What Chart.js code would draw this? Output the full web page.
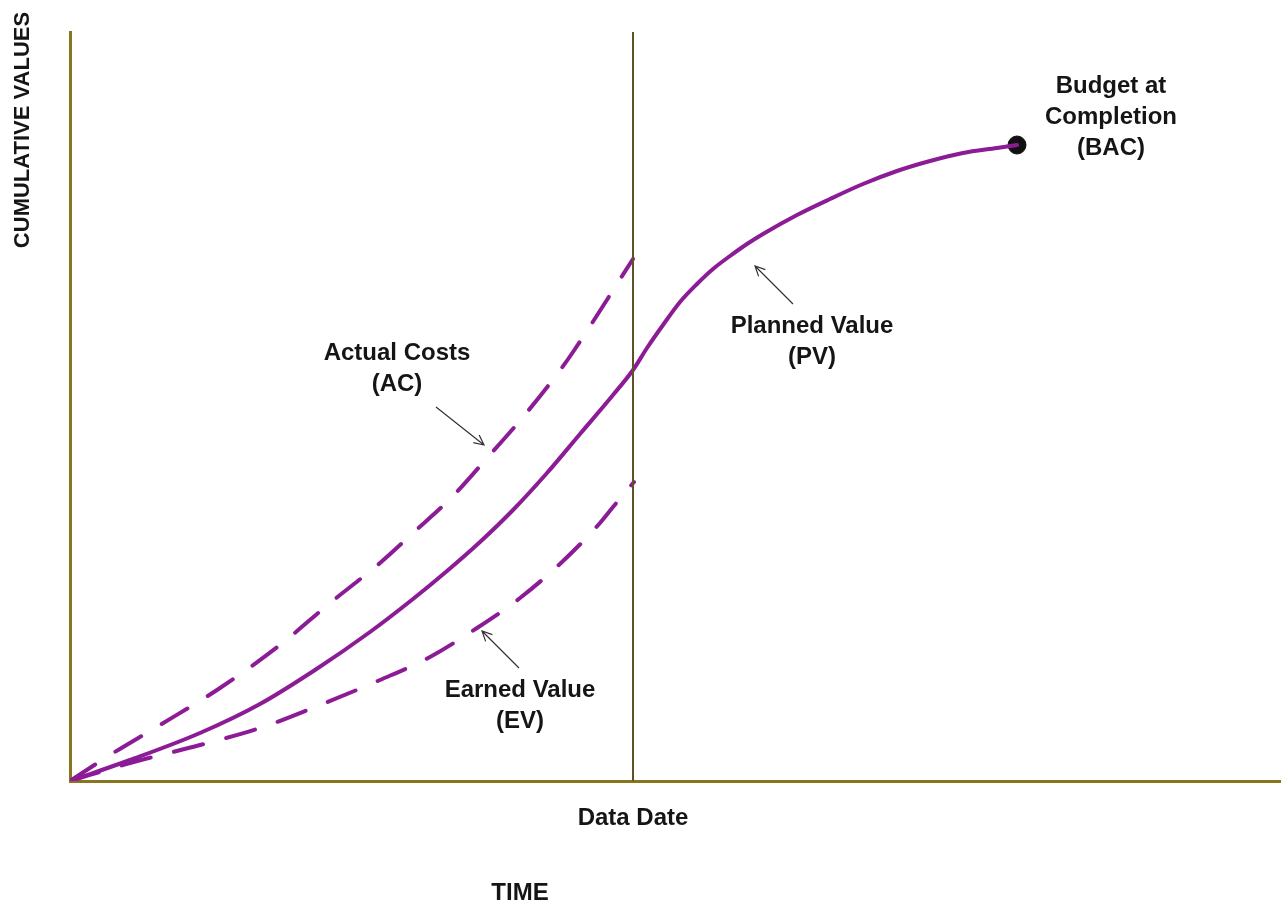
<!DOCTYPE html>
<html>
<head>
<meta charset="utf-8">
<script src="https://cdn.jsdelivr.net/npm/chart.js@4/dist/chart.umd.min.js"></script>
<style>
  html, body { margin: 0; padding: 0; background: #fff; overflow: hidden; }
  canvas { display: block; }
</style>
</head>
<body>
<canvas id="c" width="1282" height="902"></canvas>
<script>
// values (x = time, y = cumulative value)
const pvX = [0, 60, 130, 190, 245, 300, 343, 377, 410, 443, 477, 510, 543, 563, 577, 593, 610, 627, 643, 660, 677, 693, 727, 760, 793, 827, 860, 893, 927, 947];
const pvY = [0, 21, 48, 77, 111, 149, 182, 210, 239, 271, 308, 347, 386, 411, 433, 456, 479, 497, 512, 525, 537, 547, 566, 582, 597, 610, 620, 628, 633, 636];
const acX = [0, 40, 90, 150, 210, 260, 310, 343, 382, 418, 453, 488, 503, 563];
const acY = [0, 26, 56, 93, 136, 178, 218, 248, 284, 324, 364, 408, 429, 522];
const evX = [0, 60, 130, 190, 250, 310, 360, 407, 450, 492, 530, 543, 564];
const evY = [0, 18, 36, 53, 76, 101, 124, 153, 183, 219, 258, 274, 299];
const bac = { x: 947, y: 636 };
const dataDate = 563;

const purple = '#8c1c96';
const axisColor = '#8a7420';

const pts = (xs, ys) => xs.map((x, i) => ({ x: x, y: ys[i] }));

// annotations: text lines anchored at data coords, arrows from tail to head
const notes = [
  { x: 327, y: 428, lines: ['Actual Costs', '(AC)'] },
  { x: 450, y: 91, lines: ['Earned Value', '(EV)'] },
  { x: 742, y: 455, lines: ['Planned Value', '(PV)'] },
  { x: 1041, y: 695, lines: ['Budget at', 'Completion', '(BAC)'] }
];
const arrows = [
  { from: [366, 374], to: [414, 336] },
  { from: [449, 113], to: [412, 150] },
  { from: [723, 477], to: [685, 515] }
];

const extras = {
  id: 'extras',
  afterDatasetsDraw(chart) {
    const { ctx, scales: { x, y }, chartArea } = chart;
    ctx.save();
    // data date line
    const dx = x.getPixelForValue(dataDate);
    ctx.strokeStyle = '#5e5228';
    ctx.lineWidth = 2;
    ctx.beginPath();
    ctx.moveTo(dx, chartArea.top);
    ctx.lineTo(dx, chartArea.bottom);
    ctx.stroke();

    ctx.fillStyle = '#151515';
    ctx.font = 'bold 24px "Liberation Sans", Arial, sans-serif';
    ctx.textAlign = 'center';
    ctx.textBaseline = 'middle';
    notes.forEach(n => {
      const px = x.getPixelForValue(n.x), py = y.getPixelForValue(n.y);
      n.lines.forEach((l, i) => ctx.fillText(l, px, py + i * 31));
    });
    ctx.fillText('Data Date', dx, chartArea.bottom + 37);
    ctx.fillText('TIME', 520, chartArea.bottom + 112);
    ctx.save();
    ctx.font = 'bold 22px "Liberation Sans", Arial, sans-serif';
    ctx.translate(23, 130);
    ctx.rotate(-Math.PI / 2);
    ctx.fillText('CUMULATIVE VALUES', 0, 0);
    ctx.restore();

    // arrows
    ctx.strokeStyle = '#333';
    ctx.lineWidth = 1.2;
    arrows.forEach(a => {
      const x1 = x.getPixelForValue(a.from[0]), y1 = y.getPixelForValue(a.from[1]);
      const x2 = x.getPixelForValue(a.to[0]), y2 = y.getPixelForValue(a.to[1]);
      const ang = Math.atan2(y2 - y1, x2 - x1);
      ctx.beginPath();
      ctx.moveTo(x1, y1);
      ctx.lineTo(x2, y2);
      ctx.moveTo(x2 - 11 * Math.cos(ang - 0.45), y2 - 11 * Math.sin(ang - 0.45));
      ctx.lineTo(x2, y2);
      ctx.lineTo(x2 - 11 * Math.cos(ang + 0.45), y2 - 11 * Math.sin(ang + 0.45));
      ctx.stroke();
    });
    ctx.restore();
  }
};

const lineStyle = {
  borderColor: purple,
  borderWidth: 4,
  pointRadius: 0,
  borderCapStyle: 'round',
  cubicInterpolationMode: 'monotone'
};

new Chart(document.getElementById('c'), {
  type: 'line',
  data: {
    datasets: [
      Object.assign({ label: 'Planned Value (PV)', data: pts(pvX, pvY) }, lineStyle),
      Object.assign({ label: 'Actual Costs (AC)', data: pts(acX, acY), borderDash: [30, 24] }, lineStyle),
      Object.assign({ label: 'Earned Value (EV)', data: pts(evX, evY), borderDash: [30, 24] }, lineStyle),
      {
        label: 'BAC',
        data: [bac],
        showLine: false,
        pointRadius: 9,
        pointBackgroundColor: '#111',
        pointBorderColor: '#111'
      }
    ]
  },
  options: {
    responsive: false,
    animation: false,
    devicePixelRatio: 1,
    layout: { autoPadding: false, padding: { left: 70, right: 2, top: 32, bottom: 121 } },
    plugins: { legend: { display: false }, tooltip: { enabled: false } },
    scales: {
      x: {
        type: 'linear', min: 0, max: 1210,
        grid: { display: false },
        ticks: { display: false },
        border: { color: axisColor, width: 3 },
        afterFit: s => { s.height = 0; s.paddingLeft = 0; s.paddingRight = 0; }
      },
      y: {
        type: 'linear', min: 0, max: 749,
        grid: { display: false },
        ticks: { display: false },
        border: { color: axisColor, width: 3 },
        afterFit: s => { s.width = 0; s.paddingTop = 0; s.paddingBottom = 0; }
      }
    }
  },
  plugins: [extras]
});
</script>
</body>
</html>
